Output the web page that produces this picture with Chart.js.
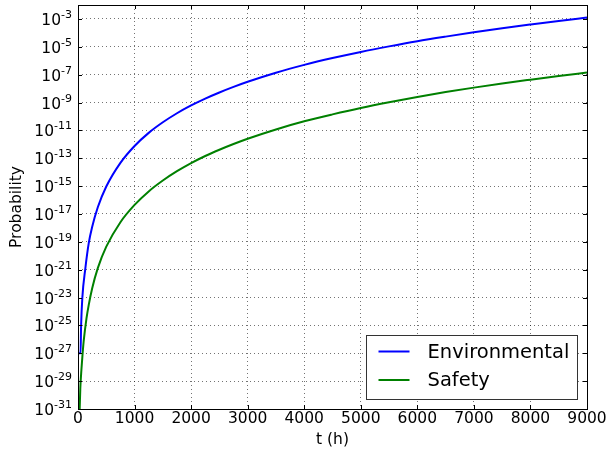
<!DOCTYPE html>
<html>
<head>
<meta charset="utf-8">
<script src="https://cdn.jsdelivr.net/npm/chart.js@4"></script>
<style>
  body { margin: 0; background: #fff; }
  canvas { display: block; }
</style>
</head>
<body>
<canvas id="myChart" width="608" height="453"></canvas>
<script>
const tEnv = [0, 45, 55, 77, 130, 190, 250, 350, 500, 750, 1000, 1250, 1500, 1750, 2000, 2250, 2500, 2750, 3000,
              3500, 4000, 4500, 5000, 5500, 6000, 6500, 7000, 7500, 8000, 8500, 9000];
const pEnv = [1e-27, 1e-27, 1e-25, 1e-23, 1.26e-21, 8.1e-20, 1.15e-18, 3.02e-17, 9.33e-16, 4.68e-14, 7.59e-13, 6.61e-12, 3.80e-11, 1.70e-10, 6.17e-10, 1.91e-9, 5.25e-9, 1.32e-8, 3.09e-8,
              1.38e-7, 5.01e-7, 1.55e-6, 4.27e-6, 1.07e-5, 2.51e-5, 5.37e-5, 1.10e-4, 2.14e-4, 3.98e-4, 7.24e-4, 1.26e-3];

const tSaf = [20, 41, 60, 80, 100, 150, 190, 250, 350, 500, 750, 1000, 1250, 1500, 1750, 2000, 2250, 2500, 2750, 3000,
              3500, 4000, 4500, 5000, 5500, 6000, 6500, 7000, 7500, 8000, 8500, 9000];
const pSaf = [5.01e-33, 3.16e-30, 6.31e-29, 7.94e-28, 7.08e-27, 3.16e-25, 2.95e-24, 4.47e-23, 1.29e-21, 4.47e-20, 2.57e-18, 4.47e-17, 4.17e-16, 2.51e-15, 1.17e-14, 4.47e-14, 1.45e-13, 4.07e-13, 1.05e-12, 2.51e-12,
              1.17e-11, 4.47e-11, 1.41e-10, 4.07e-10, 1.05e-9, 2.51e-9, 5.62e-9, 1.17e-8, 2.34e-8, 4.37e-8, 7.94e-8, 1.41e-7];

const seriesNames = ['Environmental', 'Safety'];
const yExponents = [-31, -29, -27, -25, -23, -21, -19, -17, -15, -13, -11, -9, -7, -5, -3];
const xTicks = [0, 1000, 2000, 3000, 4000, 5000, 6000, 7000, 8000, 9000];

const FONT = 'DejaVu Sans';

function pts(xs, ys) {
    return xs.map((x, i) => ({ x: x, y: ys[i] }));
}

// frame, inner tick marks, y labels with superscripts, legend
const decor = {
    id: 'decor',
    afterDraw(chart) {
        const ctx = chart.ctx;
        const a = chart.chartArea;
        const xs = chart.scales.x, ys = chart.scales.y;
        ctx.save();
        ctx.strokeStyle = '#000';
        ctx.lineWidth = 1;
        ctx.beginPath();
        xs.ticks.forEach(t => {
            const px = Math.round(xs.getPixelForValue(t.value)) + 0.5;
            ctx.moveTo(px, a.bottom); ctx.lineTo(px, a.bottom - 4);
            ctx.moveTo(px, a.top); ctx.lineTo(px, a.top + 4);
        });
        ys.ticks.forEach(t => {
            const py = Math.round(ys.getPixelForValue(t.value)) + 0.5;
            ctx.moveTo(a.left, py); ctx.lineTo(a.left + 4, py);
            ctx.moveTo(a.right, py); ctx.lineTo(a.right - 4, py);
        });
        ctx.stroke();
        ctx.strokeRect(Math.round(a.left) + 0.5, Math.round(a.top) + 0.5,
                       Math.round(a.right - a.left), Math.round(a.bottom - a.top));

        // y tick labels: 10 with superscript exponent
        ctx.fillStyle = '#000';
        ctx.textBaseline = 'alphabetic';
        ys.ticks.forEach(t => {
            const e = Math.round(Math.log10(t.value));
            const py = ys.getPixelForValue(t.value);
            const right = a.left - 6;
            ctx.font = '11px "' + FONT + '"';
            const es = String(e);
            const ew = ctx.measureText(es).width;
            ctx.textAlign = 'left';
            ctx.fillText(es, right - ew, py - 1);
            ctx.font = '15.5px "' + FONT + '"';
            ctx.textAlign = 'right';
            ctx.fillText('10', right - ew, py + 6);
        });

        // legend box, lower right
        const bx = 366.5, by = 335.5, bw = 211, bh = 64;
        ctx.fillStyle = '#fff';
        ctx.fillRect(bx, by, bw, bh);
        ctx.strokeStyle = '#333';
        ctx.strokeRect(bx, by, bw, bh);
        ctx.font = '19.5px "' + FONT + '"';
        ctx.textAlign = 'left';
        ctx.textBaseline = 'middle';
        chart.data.datasets.forEach((ds, i) => {
            const ly = by + 16 + i * 28.5;
            ctx.strokeStyle = ds.borderColor;
            ctx.lineWidth = 2;
            ctx.beginPath();
            ctx.moveTo(bx + 12, ly); ctx.lineTo(bx + 43, ly);
            ctx.stroke();
            ctx.fillStyle = '#000';
            ctx.fillText(ds.label, bx + 61, ly + 1);
        });
        ctx.restore();
    }
};

const ctx = document.getElementById('myChart').getContext('2d');
const chart = new Chart(ctx, {
    type: 'line',
    data: {
        datasets: [{
            label: seriesNames[0],
            data: pts(tEnv, pEnv),
            borderColor: '#0000ff',
            borderWidth: 2,
            pointRadius: 0,
            cubicInterpolationMode: 'monotone',
            fill: false
        }, {
            label: seriesNames[1],
            data: pts(tSaf, pSaf),
            borderColor: '#008000',
            borderWidth: 2,
            pointRadius: 0,
            cubicInterpolationMode: 'monotone',
            fill: false
        }]
    },
    options: {
        responsive: false,
        animation: false,
        layout: { padding: { top: 5, right: 21, left: 0, bottom: 0 } },
        plugins: {
            legend: { display: false },
            tooltip: { enabled: false }
        },
        scales: {
            x: {
                type: 'linear',
                min: 0,
                max: 9000,
                afterBuildTicks: s => { s.ticks = xTicks.map(v => ({ value: v })); },
                afterFit: s => { s.height = 44; },
                ticks: {
                    color: '#000',
                    font: { family: FONT, size: 15.5 },
                    padding: 1,
                    maxRotation: 0,
                    callback: v => String(v)
                },
                grid: {
                    color: 'rgba(0,0,0,0.55)',
                    lineWidth: 1,
                    drawTicks: false
                },
                border: { display: false, dash: [1, 3] },
                title: {
                    display: true,
                    text: 't (h)',
                    color: '#000',
                    font: { family: FONT, size: 15.5 },
                    padding: { top: 0, bottom: 4 }
                }
            },
            y: {
                type: 'logarithmic',
                min: 1e-31,
                max: 1e-2,
                afterBuildTicks: s => { s.ticks = yExponents.map(e => ({ value: Math.pow(10, e) })); },
                afterFit: s => { s.width = 78; },
                ticks: { display: false },
                grid: {
                    color: 'rgba(0,0,0,0.55)',
                    lineWidth: 1,
                    drawTicks: false
                },
                border: { display: false, dash: [1, 3] },
                title: {
                    display: true,
                    text: 'Probability',
                    color: '#000',
                    font: { family: FONT, size: 15.5 },
                    padding: { top: 8, bottom: 0 }
                }
            }
        }
    },
    plugins: [decor]
});
</script>
</body>
</html>
